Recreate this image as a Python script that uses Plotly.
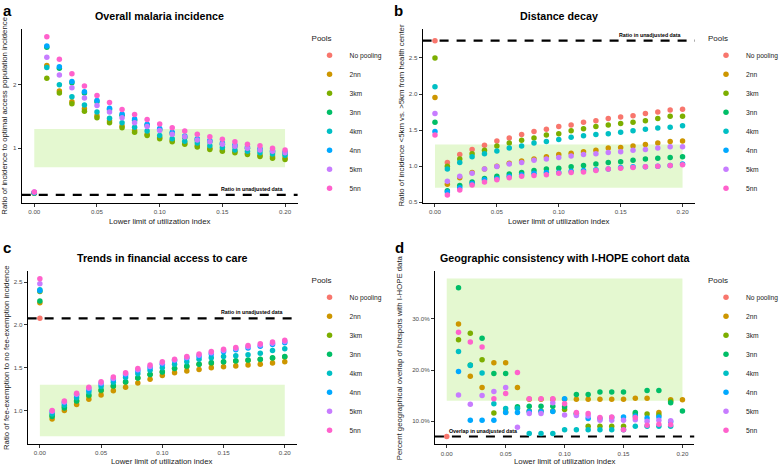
import plotly.graph_objects as go

# ---------------- data ----------------
x_vals = [0.00, 0.01, 0.02, 0.03, 0.04, 0.05, 0.06, 0.07, 0.08, 0.09, 0.10,
          0.11, 0.12, 0.13, 0.14, 0.15, 0.16, 0.17, 0.18, 0.19, 0.20]
pools = ["No pooling", "2nn", "3km", "3nn", "4km", "4nn", "5km", "5nn"]
pool_colors = ["#F8766D", "#CD9600", "#7CAE00", "#00BE67", "#00BFC4", "#00A9FF", "#C77CFF", "#FF61CC"]
N = None

# a: Overall malaria incidence
incidence = {
    "No pooling": [0.30, N, N, N, N, N, N, N, N, N, N, N, N, N, N, N, N, N, N, N, N],
    "2nn": [0.29, 2.30, 1.90, 1.73, 1.62, 1.51, 1.43, 1.35, 1.28, 1.22, 1.17, 1.12, 1.08, 1.04, 1.00, 0.97, 0.95, 0.92, 0.89, 0.87, 0.85],
    "3km": [0.29, 2.10, 1.87, 1.70, 1.58, 1.48, 1.40, 1.32, 1.25, 1.20, 1.15, 1.10, 1.06, 1.02, 0.98, 0.95, 0.93, 0.90, 0.87, 0.84, 0.82],
    "3nn": [0.30, 2.59, 2.26, 2.03, 1.87, 1.73, 1.61, 1.52, 1.44, 1.36, 1.29, 1.23, 1.17, 1.13, 1.10, 1.06, 1.03, 1.00, 0.97, 0.94, 0.92],
    "4km": [0.30, 2.27, 2.00, 1.81, 1.68, 1.57, 1.47, 1.40, 1.33, 1.27, 1.20, 1.15, 1.11, 1.08, 1.04, 1.01, 0.97, 0.95, 0.93, 0.91, 0.89],
    "4nn": [0.30, 2.61, 2.28, 2.05, 1.89, 1.75, 1.63, 1.54, 1.46, 1.375, 1.31, 1.25, 1.19, 1.15, 1.12, 1.08, 1.05, 1.02, 0.99, 0.96, 0.94],
    "5km": [0.31, 2.43, 2.15, 1.95, 1.79, 1.67, 1.57, 1.48, 1.40, 1.34, 1.28, 1.22, 1.18, 1.13, 1.10, 1.06, 1.03, 1.00, 0.97, 0.95, 0.93],
    "5nn": [0.31, 2.755, 2.40, 2.17, 1.98, 1.83, 1.72, 1.61, 1.53, 1.45, 1.38, 1.32, 1.27, 1.22, 1.18, 1.14, 1.10, 1.06, 1.04, 1.00, 0.97],
}
# b: Distance decay
distance = {
    "No pooling": [2.74, 1.05, 1.16, 1.23, 1.29, 1.35, 1.39, 1.44, 1.48, 1.51, 1.55, 1.57, 1.61, 1.63, 1.66, 1.68, 1.70, 1.73, 1.75, 1.78, 1.79],
    "2nn": [1.95, 0.75, 0.84, 0.91, 0.96, 1.00, 1.04, 1.07, 1.10, 1.13, 1.16, 1.18, 1.20, 1.22, 1.25, 1.26, 1.28, 1.30, 1.32, 1.34, 1.35],
    "3km": [2.50, 1.00, 1.10, 1.17, 1.22, 1.28, 1.32, 1.36, 1.39, 1.43, 1.45, 1.49, 1.52, 1.55, 1.57, 1.59, 1.61, 1.63, 1.66, 1.69, 1.69],
    "3nn": [1.61, 0.66, 0.73, 0.78, 0.83, 0.86, 0.89, 0.91, 0.94, 0.96, 0.97, 0.99, 1.01, 1.03, 1.05, 1.06, 1.08, 1.10, 1.11, 1.12, 1.13],
    "4km": [2.10, 0.96, 1.05, 1.13, 1.17, 1.21, 1.25, 1.28, 1.32, 1.34, 1.37, 1.40, 1.42, 1.44, 1.45, 1.47, 1.49, 1.51, 1.53, 1.54, 1.56],
    "4nn": [1.48, 0.64, 0.70, 0.76, 0.81, 0.83, 0.86, 0.88, 0.90, 0.91, 0.91, 0.93, 0.94, 0.95, 0.96, 0.98, 0.99, 0.99, 1.00, 1.01, 1.03],
    "5km": [1.73, 0.79, 0.86, 0.90, 0.96, 0.995, 1.03, 1.05, 1.08, 1.10, 1.12, 1.14, 1.16, 1.17, 1.19, 1.20, 1.22, 1.23, 1.25, 1.27, 1.27],
    "5nn": [1.43, 0.60, 0.67, 0.74, 0.78, 0.81, 0.84, 0.86, 0.87, 0.88, 0.90, 0.91, 0.92, 0.94, 0.96, 0.97, 0.98, 0.99, 1.00, 1.01, 1.02],
}
# c: Trends in financial access to care
financial = {
    "No pooling": [2.077, N, N, N, N, N, N, N, N, N, N, N, N, N, N, N, N, N, N, N, N],
    "2nn": [2.26, 0.90, 1.00, 1.07, 1.13, 1.18, 1.23, 1.27, 1.32, 1.365, 1.41, 1.44, 1.46, 1.48, 1.50, 1.51, 1.52, 1.53, 1.54, 1.555, 1.57],
    "3km": [2.39, 0.94, 1.04, 1.11, 1.17, 1.23, 1.28, 1.33, 1.38, 1.42, 1.45, 1.49, 1.51, 1.54, 1.55, 1.565, 1.575, 1.585, 1.595, 1.61, 1.625],
    "3nn": [2.28, 0.93, 1.03, 1.11, 1.18, 1.24, 1.29, 1.335, 1.38, 1.42, 1.45, 1.49, 1.52, 1.54, 1.56, 1.57, 1.58, 1.59, 1.60, 1.615, 1.63],
    "4km": [2.41, 0.96, 1.06, 1.15, 1.215, 1.28, 1.33, 1.385, 1.43, 1.47, 1.50, 1.54, 1.57, 1.60, 1.615, 1.63, 1.64, 1.65, 1.67, 1.70, 1.72],
    "4nn": [2.40, 0.985, 1.09, 1.18, 1.24, 1.31, 1.36, 1.415, 1.46, 1.50, 1.54, 1.58, 1.61, 1.63, 1.66, 1.685, 1.71, 1.73, 1.75, 1.77, 1.79],
    "5km": [2.48, 0.99, 1.10, 1.19, 1.26, 1.32, 1.375, 1.43, 1.475, 1.515, 1.555, 1.59, 1.62, 1.645, 1.675, 1.70, 1.725, 1.745, 1.765, 1.785, 1.805],
    "5nn": [2.54, 1.00, 1.11, 1.20, 1.27, 1.335, 1.39, 1.44, 1.49, 1.53, 1.57, 1.60, 1.63, 1.66, 1.69, 1.715, 1.735, 1.76, 1.78, 1.80, 1.82],
}
# d: Geographic consistency with I-HOPE cohort data (percent)
overlap = {
    "No pooling": [7.0, N, N, N, N, N, N, N, N, N, N, N, N, N, N, N, N, N, N, N, N],
    "2nn": [N, 29.0, 18.8, 16.6, 21.4, 21.4, 16.6, 14.3, 14.3, 14.3, 14.3, 14.3, 14.3, 14.3, 14.3, 14.3, 14.5, 14.5, 11.7, 14.2, 14.2],
    "3km": [N, 25.9, 27.2, 22.0, 11.6, 11.8, 12.6, 12.0, 12.0, 12.0, 12.3, 11.5, 9.0, 9.0, 9.0, 9.0, 11.4, 11.4, 11.2, 13.9, N],
    "3nn": [N, 36.1, 21.0, 26.2, 19.3, 19.3, 12.8, 12.9, 12.9, 12.9, 12.8, 15.2, 15.2, 15.7, 15.7, 15.7, 11.7, 16.0, 16.0, 13.6, 12.0],
    "4km": [N, 23.6, 20.9, 19.4, 13.4, 12.5, 12.5, 7.6, 7.6, 7.6, 8.3, 8.3, 8.3, 8.3, 8.3, 8.3, 9.0, 9.0, 9.0, 9.0, N],
    "4nn": [N, 19.7, 10.2, 10.2, 10.2, 11.7, 11.7, 11.9, 11.9, 11.9, 14.4, 11.4, 10.5, 10.5, 10.7, 10.8, 11.0, 10.6, 10.8, 9.9, N],
    "5km": [N, 15.1, 13.3, 15.0, 15.8, 16.6, 8.8, 11.5, 11.5, 13.6, 11.2, 11.1, 11.0, 10.2, 10.2, 10.2, 10.3, 10.0, 10.2, 10.1, N],
    "5nn": [N, 27.4, 25.5, 24.5, 14.4, 15.4, 19.5, 14.4, 14.4, 14.4, 13.4, 11.7, 11.5, 10.7, 10.8, 8.3, 10.7, 9.2, 9.4, 9.3, N],
}

titles = ["Overall malaria incidence", "Distance decay",
          "Trends in financial access to care", "Geographic consistency with I-HOPE cohort data"]
ytitles = ["Ratio of incidence to optimal access population incidence",
           "Ratio of incidence <5km vs. >5km from health center",
           "Ratio of fee-exemption to no fee-exemption incidence",
           "Percent geographical overlap of hotspots with I-HOPE data"]
panel_letters = ["a", "b", "c", "d"]
xtitle = "Lower limit of utilization index"
x_ticks = [0.00, 0.05, 0.10, 0.15, 0.20]
x_ticktext = ["0.00", "0.05", "0.10", "0.15", "0.20"]
ref_values = [0.266, 2.74, 2.077, 7.0]
ref_labels = ["Ratio in unadjusted data", "Ratio in unadjusted data",
              "Ratio in unadjusted data", "Overlap in unadjusted data"]
band_low = [0.7, 0.7, 0.7, 14.0]
band_high = [1.3, 1.3, 1.3, 37.9]
y_ticks = [[1, 2], [0.5, 1.0, 1.5, 2.0, 2.5], [1.0, 1.5, 2.0, 2.5], [10, 20, 30]]
y_ticktext = [["1", "2"], ["0.5", "1.0", "1.5", "2.0", "2.5"], ["1.0", "1.5", "2.0", "2.5"],
              ["10.0%", "20.0%", "30.0%"]]
datasets = [incidence, distance, financial, overlap]

# ---------------- layout geometry (pixels) ----------------
W, H = 784, 470
FONT = "Liberation Sans, Arial, Helvetica, sans-serif"


def fx(px):
    return px / W


def fy(py):
    return 1 - py / H


geo = [
    dict(xd=(22.2, 303.8), yd=(29.0, 204.0), yr=(0.142, 2.879), leg=(316, 30.5), ytx=5, xty=222.7, tty=16, lab=(1, 0)),
    dict(xd=(431.4, 709.4), yd=(29.3, 204.0), yr=(0.493, 2.90), leg=(721, 30.5), ytx=410, xty=222.7, tty=16, lab=(400, 0)),
    dict(xd=(28.2, 303.2), yd=(272.3, 446.7), yr=(0.61, 2.635), leg=(316, 274), ytx=6, xty=464.5, tty=260, lab=(1, 239)),
    dict(xd=(444.0, 708.7), yd=(272.3, 447.3), yr=(5.45, 39.45), leg=(721, 274), ytx=408, xty=464.5, tty=260, lab=(401, 239)),
]

fig = go.Figure()
layout = dict(width=W, height=H, autosize=False,
              margin=dict(l=0, r=0, t=0, b=0),
              paper_bgcolor="white", plot_bgcolor="white",
              font=dict(family=FONT, color="#000000"),
              shapes=[], annotations=[])

for i in range(4):
    g = geo[i]
    sfx = "" if i == 0 else str(i + 1)
    xa, ya = "x" + sfx, "y" + sfx
    leg_name = "legend" + sfx
    data = datasets[i]
    for p, c in zip(pools, pool_colors):
        fig.add_trace(go.Scatter(
            x=x_vals, y=data[p], mode="markers", name=p,
            marker=dict(color=c, size=5.5, line=dict(width=0)),
            xaxis=xa, yaxis=ya, legend=leg_name, showlegend=True, cliponaxis=False))

    axis_common = dict(showline=True, linecolor="#000000", linewidth=1, ticks="outside",
                       ticklen=3, tickwidth=1, tickcolor="#333333", showgrid=False, zeroline=False,
                       tickfont=dict(size=6.2, color="#4d4d4d", family=FONT), fixedrange=True)
    layout["xaxis" + sfx] = dict(axis_common, domain=[fx(g["xd"][0]), fx(g["xd"][1])],
                                 range=[-0.01, 0.21], anchor=ya,
                                 tickvals=x_ticks, ticktext=x_ticktext)
    layout["yaxis" + sfx] = dict(axis_common, domain=[fy(g["yd"][1]), fy(g["yd"][0])],
                                 range=list(g["yr"]), anchor=xa,
                                 tickvals=y_ticks[i], ticktext=y_ticktext[i])

    # green band
    layout["shapes"].append(dict(type="rect", xref=xa, yref=ya, x0=0.0, x1=0.2,
                                 y0=band_low[i], y1=band_high[i], fillcolor="#e4f8d0",
                                 line=dict(width=0), layer="below"))
    # dashed reference line
    layout["shapes"].append(dict(type="line", xref=xa + " domain", yref=ya, x0=0, x1=1,
                                 y0=ref_values[i], y1=ref_values[i],
                                 line=dict(color="#000000", width=2.2, dash="9px,8px"), layer="below"))
    # reference label
    if i < 3:
        layout["annotations"].append(dict(x=0.2, y=ref_values[i], xref=xa, yref=ya,
                                          text="<b>" + ref_labels[i] + "</b>", showarrow=False,
                                          xanchor="right", yanchor="bottom", yshift=1,
                                          font=dict(size=5.3, color="#000000")))
    else:
        layout["annotations"].append(dict(x=0.0, y=ref_values[i], xref=xa, yref=ya,
                                          text="<b>" + ref_labels[i] + "</b>", showarrow=False,
                                          xanchor="left", yanchor="bottom", yshift=1,
                                          font=dict(size=5.3, color="#000000")))
    xc = (g["xd"][0] + g["xd"][1]) / 2
    yc = (g["yd"][0] + g["yd"][1]) / 2
    # title
    layout["annotations"].append(dict(x=fx(xc), y=fy(g["tty"]), xref="paper", yref="paper",
                                      text="<b>" + titles[i] + "</b>", showarrow=False,
                                      xanchor="center", yanchor="middle",
                                      font=dict(size=10.7, color="#000000")))
    # x title
    layout["annotations"].append(dict(x=fx(xc), y=fy(g["xty"]), xref="paper", yref="paper",
                                      text=xtitle, showarrow=False, xanchor="center", yanchor="middle",
                                      font=dict(size=7.8, color="#1a1a1a")))
    # y title
    layout["annotations"].append(dict(x=fx(g["ytx"]), y=fy(yc), xref="paper", yref="paper",
                                      text=ytitles[i], showarrow=False, textangle=-90,
                                      xanchor="center", yanchor="middle",
                                      font=dict(size=7.8, color="#1a1a1a")))
    # panel letter
    layout["annotations"].append(dict(x=fx(g["lab"][0]), y=fy(g["lab"][1]), xref="paper", yref="paper",
                                      text="<b>" + panel_letters[i] + "</b>", showarrow=False,
                                      xanchor="left", yanchor="top",
                                      font=dict(size=15, color="#000000")))
    # legend
    layout[leg_name] = dict(x=fx(g["leg"][0]), y=fy(g["leg"][1]), xanchor="left", yanchor="top",
                            bgcolor="rgba(0,0,0,0)", borderwidth=0,
                            title=dict(text="Pools", font=dict(size=8, color="#1a1a1a")),
                            font=dict(size=6.7, color="#1a1a1a"), itemwidth=30,
                            tracegroupgap=0, itemsizing="trace")

fig.update_layout(**layout)
fig.write_html("out.html", config={"displayModeBar": False},
               post_script="document.body.style.margin='0px';")
